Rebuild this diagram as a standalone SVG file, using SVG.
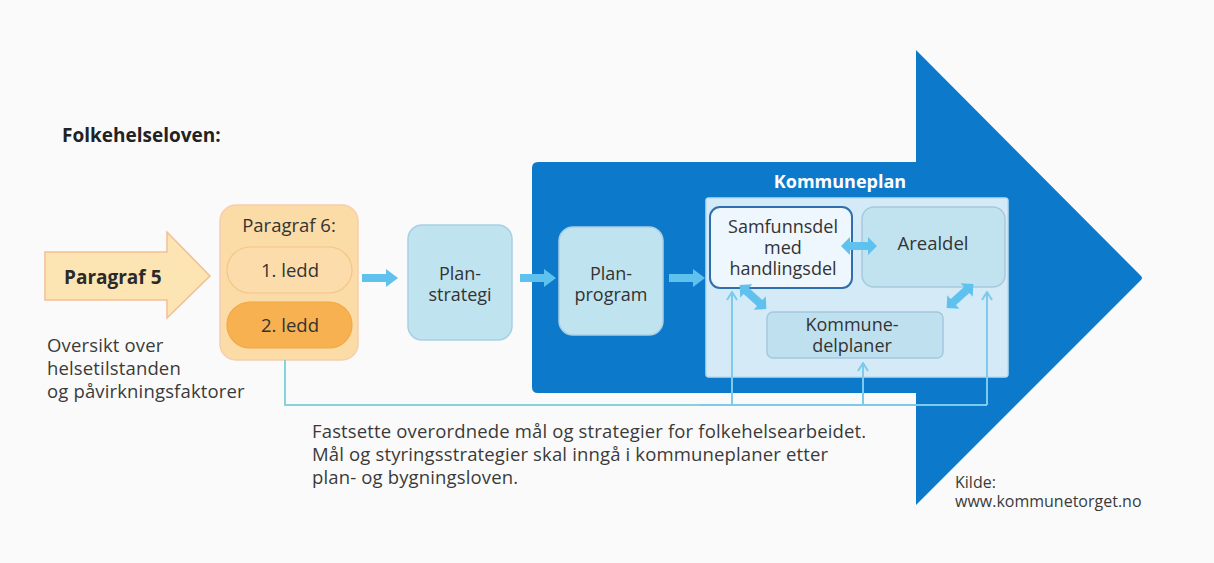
<svg xmlns="http://www.w3.org/2000/svg" width="1214" height="563" viewBox="0 0 1214 563">
  <style>
    text { font-family: "Open Sans", "Noto Sans", "DejaVu Sans", sans-serif; fill: #333333; }
    .title { font-size: 19px; font-weight: bold; fill: #222222; }
    .lbl { font-size: 18.5px; text-anchor: middle; }
    .multi { font-size: 18px; }
    .body { font-size: 18.5px; fill: #3a3a3a; letter-spacing: 0.15px; }
    .small { font-size: 16px; fill: #3a3a3a; }
    .bold { font-weight: bold; }
    .box { fill: #c0e3f0; stroke: #a9cfe6; stroke-width: 1.5; }
    .thick { fill: #5fc2ee; }
    .thin { fill: none; stroke: #7ccaec; stroke-width: 2; }
  </style>
  <defs>
    <marker id="up" viewBox="0 0 10 12" refX="9" refY="6" markerWidth="10" markerHeight="12" markerUnits="userSpaceOnUse" orient="auto">
      <path d="M1,1 L9,6 L1,11" fill="none" stroke="#7ccaec" stroke-width="2"/>
    </marker>
    <path id="single" d="M0,-4 L24,-4 L24,-9 L36,0 L24,9 L24,4 L0,4 Z"/>
    <path id="double" d="M-18,0 L-9,-9 L-9,-4 L9,-4 L9,-9 L18,0 L9,9 L9,4 L-9,4 L-9,9 Z"/>
  </defs>

  <rect width="1214" height="563" fill="#fafafa"/>

  <text class="title" x="62" y="142">Folkehelseloven:</text>

  <!-- large blue arrow carrying the municipal plan -->
  <g id="kommuneplan">
    <path d="M538,162 L916,162 L916,50 L1141,276 Q1143,278 1141,280 L916,505 L916,393 L538,393 Q532,393 532,387 L532,168 Q532,162 538,162 Z" fill="#0d79cb"/>
    <text class="bold" x="840" y="188" style="font-size:18px;fill:#ffffff;text-anchor:middle">Kommuneplan</text>
    <rect x="706" y="198" width="302" height="179" rx="3" fill="#d4eaf7" stroke="#b9dcf0" stroke-width="1.5"/>
  </g>

  <!-- Paragraf 5 arrow -->
  <g id="paragraf5">
    <path d="M45,252 L167,252 L167,232 L210,276 L167,318 L167,300 L45,300 Z" fill="#fde4b3" stroke="#f3bf92" stroke-width="1.5"/>
    <text class="bold" x="64" y="284" style="font-size:19px;fill:#2a2a2a">Paragraf 5</text>
  </g>

  <text class="body" x="47" y="352">Oversikt over</text>
  <text class="body" x="47" y="375">helsetilstanden</text>
  <text class="body" x="47" y="398">og påvirkningsfaktorer</text>

  <!-- Paragraf 6 -->
  <g id="paragraf6">
    <rect x="220" y="205" width="138" height="155" rx="16" fill="#fbdba6" stroke="#f6ceb0" stroke-width="1.5"/>
    <text class="lbl" x="289" y="232">Paragraf 6:</text>
    <g id="ledd1">
      <rect x="227" y="247" width="125" height="46" rx="23" fill="#fddcac" stroke="#f4c688" stroke-width="1.2"/>
      <text class="lbl" x="290" y="277">1. ledd</text>
    </g>
    <g id="ledd2">
      <rect x="227" y="302" width="125" height="46" rx="23" fill="#f7b150" stroke="#f2a845" stroke-width="1.2"/>
      <text class="lbl" x="290" y="332">2. ledd</text>
    </g>
  </g>

  <g id="planstrategi">
    <rect class="box" x="408" y="225" width="104" height="115" rx="14"/>
    <text class="lbl multi" x="460" y="280">Plan-</text>
    <text class="lbl multi" x="460" y="301">strategi</text>
  </g>

  <g id="planprogram">
    <rect class="box" x="559" y="227" width="104" height="108" rx="14"/>
    <text class="lbl multi" x="611" y="280">Plan-</text>
    <text class="lbl multi" x="611" y="301">program</text>
  </g>

  <g id="samfunnsdel">
    <rect x="710" y="207" width="142" height="81" rx="10" fill="#eef7fd" stroke="#2f6fae" stroke-width="2"/>
    <text class="lbl multi" x="783" y="233">Samfunnsdel</text>
    <text class="lbl multi" x="783" y="254">med</text>
    <text class="lbl multi" x="783" y="275">handlingsdel</text>
  </g>

  <g id="arealdel">
    <rect x="862" y="207" width="143" height="80" rx="12" fill="#c0e3ef" stroke="#a7c9dd" stroke-width="1.5"/>
    <text class="lbl" x="933" y="250">Arealdel</text>
  </g>

  <g id="kommunedelplaner">
    <rect x="767" y="312" width="176" height="46" rx="6" fill="#bfe1ef" stroke="#a3c8df" stroke-width="1.5"/>
    <text class="lbl multi" x="852" y="331">Kommune-</text>
    <text class="lbl multi" x="852" y="352">delplaner</text>
  </g>

  <!-- connectors -->
  <g id="connectors">
    <use href="#single" class="thick" transform="translate(362,278)"/>
    <use href="#single" class="thick" transform="translate(520,278)"/>
    <use href="#single" class="thick" transform="translate(669,278)"/>
    <use href="#double" class="thick" transform="translate(859,246)"/>
    <use href="#double" class="thick" transform="translate(753,297) rotate(42)"/>
    <use href="#double" class="thick" transform="translate(960,296) rotate(-42)"/>

    <path d="M285,360 L285,405 L700,405" fill="none" stroke="#86d3da" stroke-width="2"/>
    <path class="thin" d="M700,405 L987,405"/>
    <path class="thin" d="M732,405 L732,292" marker-end="url(#up)"/>
    <path class="thin" d="M863,405 L863,363" marker-end="url(#up)"/>
    <path class="thin" d="M987,405 L987,292" marker-end="url(#up)"/>
  </g>

  <text class="body" x="312" y="438">Fastsette overordnede mål og strategier for folkehelsearbeidet.</text>
  <text class="body" x="312" y="461">Mål og styringsstrategier skal inngå i kommuneplaner etter</text>
  <text class="body" x="312" y="484">plan- og bygningsloven.</text>

  <text class="small" x="955" y="488">Kilde:</text>
  <text class="small" x="955" y="507">www.kommunetorget.no</text>
</svg>
